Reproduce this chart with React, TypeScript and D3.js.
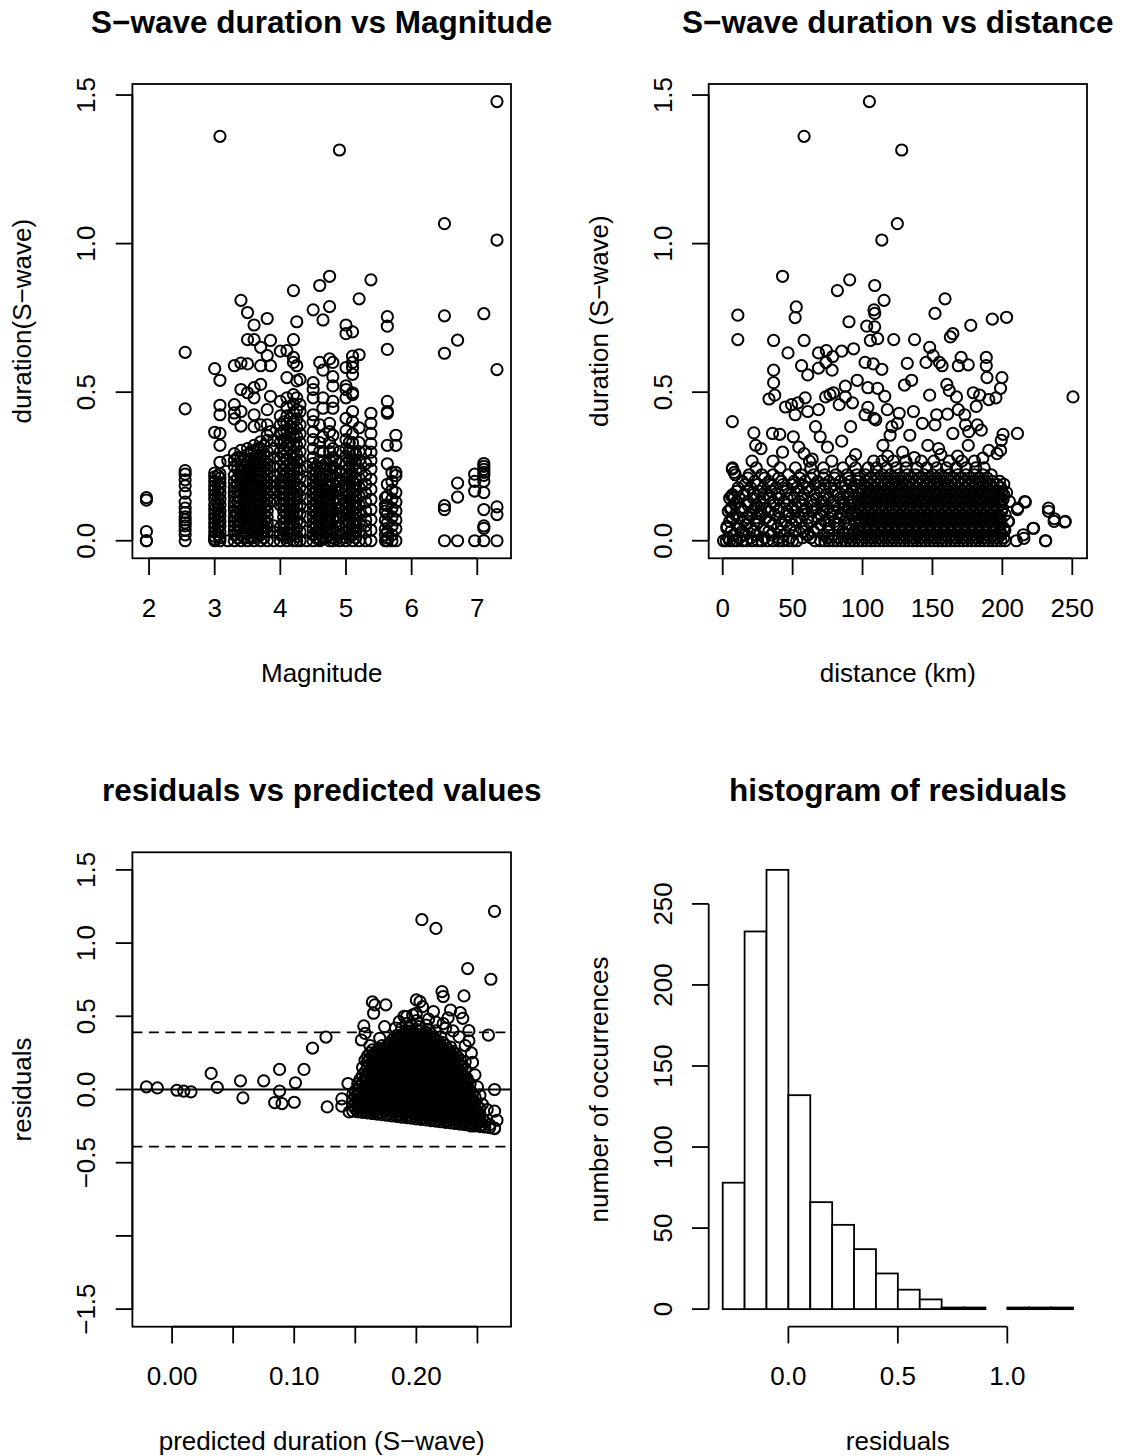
import React from 'react';
import * as d3 from 'd3';

const FONT = "'Liberation Sans', Arial, Helvetica, sans-serif";
const AXIS_FS = 26;
const TITLE_FS = 31.5;
const PT_R = 5.6;
const PT_SW = 2.0;
const LINE_SW = 1.8;

// ---------- panel 1 : duration vs magnitude (magnitude, durations) ----------
const p1Columns: [number, number[]][] = [
  [1.96, [0.145, 0.137, 0.031, 0, 0]],
  [2.55, [0.634, 0.444, 0.236, 0.224, 0.205, 0.185, 0.16, 0.13, 0.11, 0.095, 0.08, 0.07, 0.06, 0.05, 0.035, 0.02, 0]],
  [3.0, [0.579, 0.365, 0.228, 0.215, 0.2, 0.185, 0.17, 0.155, 0.14, 0.12, 0.105, 0.09, 0.075, 0.06, 0.045, 0.03, 0.015, 0.005, 0]],
  [3.05, [0.22, 0.19, 0.165, 0.145, 0.125, 0.11, 0.095, 0.08, 0.065, 0.05, 0.035, 0.02]],
  [3.08, [1.361, 0.54, 0.456, 0.424, 0.361, 0.321, 0.264, 0.225, 0.21, 0.195, 0.18, 0.16, 0.14, 0.12, 0.1, 0.085, 0.065, 0.05, 0.03, 0.01, 0]],
  [3.2, [0.27, 0.0]],
  [3.3, [0.589, 0.458, 0.43, 0.41, 0.293, 0.27, 0.25, 0.22, 0.2, 0.18, 0.165, 0.15, 0.13, 0.115, 0.1, 0.08, 0.065, 0.05, 0.035, 0.02, 0]],
  [3.35, [0.28, 0.24, 0.21, 0.19, 0.17, 0.15, 0.13, 0.11, 0.09, 0.07, 0.05, 0.03, 0.01]],
  [3.4, [0.809, 0.598, 0.509, 0.435, 0.386, 0.304, 0.28, 0.255, 0.235, 0.215, 0.2, 0.18, 0.16, 0.14, 0.12, 0.1, 0.08, 0.06, 0.04, 0.02, 0]],
  [3.45, [0.27, 0.245, 0.225, 0.205, 0.19, 0.17, 0.15, 0.13, 0.11, 0.09, 0.07, 0.05, 0.03, 0.01]],
  [3.5, [0.768, 0.677, 0.595, 0.498, 0.31, 0.29, 0.265, 0.24, 0.22, 0.2, 0.185, 0.165, 0.145, 0.125, 0.105, 0.085, 0.065, 0.045, 0.025, 0.01, 0]],
  [3.55, [0.3, 0.275, 0.25, 0.23, 0.21, 0.19, 0.17, 0.15, 0.13, 0.11, 0.09, 0.07, 0.05, 0.03, 0.01]],
  [3.6, [0.726, 0.677, 0.515, 0.481, 0.424, 0.384, 0.321, 0.3, 0.275, 0.25, 0.23, 0.21, 0.19, 0.17, 0.15, 0.13, 0.11, 0.09, 0.07, 0.05, 0.03, 0.01, 0]],
  [3.65, [0.31, 0.285, 0.26, 0.24, 0.22, 0.2, 0.18, 0.16, 0.14, 0.12, 0.1, 0.08, 0.06, 0.04, 0.02]],
  [3.7, [0.651, 0.589, 0.526, 0.39, 0.333, 0.31, 0.285, 0.26, 0.24, 0.22, 0.2, 0.18, 0.16, 0.14, 0.12, 0.1, 0.08, 0.06, 0.04, 0.02, 0]],
  [3.75, [0.32, 0.29, 0.27, 0.25, 0.23, 0.21, 0.19, 0.17, 0.15, 0.13, 0.11, 0.09, 0.07, 0.05, 0.03, 0.01]],
  [3.8, [0.748, 0.623, 0.441, 0.39, 0.355, 0.338, 0.3, 0.28, 0.26, 0.24, 0.22, 0.2, 0.18, 0.16, 0.14, 0.12, 0.1, 0.08, 0.06, 0.045, 0.03, 0]],
  [3.85, [0.674, 0.589, 0.486, 0.367]],
  [3.9, [0.338, 0.31, 0.28, 0.25, 0.22, 0.2, 0.18, 0.16, 0.135, 0.05, 0.03, 0]],
  [4.0, [0.638, 0.469, 0.42, 0.39, 0.36, 0.33, 0.3, 0.275, 0.25, 0.225, 0.2, 0.18, 0.16, 0.14, 0.12, 0.045, 0.02, 0]],
  [4.05, [0.4, 0.37, 0.34, 0.31, 0.285, 0.26, 0.24, 0.22, 0.2, 0.18, 0.16, 0.14, 0.12, 0.1, 0.08, 0.06, 0.04, 0.02]],
  [4.1, [0.64, 0.549, 0.481, 0.45, 0.42, 0.395, 0.37, 0.345, 0.32, 0.295, 0.27, 0.25, 0.23, 0.21, 0.19, 0.17, 0.15, 0.13, 0.11, 0.09, 0.07, 0.05, 0.03, 0.01, 0]],
  [4.15, [0.41, 0.385, 0.36, 0.33, 0.31, 0.285, 0.26, 0.24, 0.22, 0.2, 0.18, 0.16, 0.14, 0.12, 0.1, 0.08, 0.06, 0.04, 0.02]],
  [4.2, [0.842, 0.677, 0.617, 0.6, 0.492, 0.46, 0.43, 0.4, 0.375, 0.35, 0.325, 0.3, 0.28, 0.26, 0.24, 0.22, 0.2, 0.18, 0.16, 0.14, 0.12, 0.1, 0.08, 0.06, 0.04, 0.02, 0]],
  [4.25, [0.737, 0.589, 0.538, 0.481, 0.44, 0.41, 0.38, 0.35, 0.32, 0.29, 0.265, 0.24, 0.215, 0.19, 0.165, 0.14, 0.115, 0.09, 0.065, 0.04, 0.015, 0]],
  [4.3, [0.543, 0.458, 0.435, 0.39, 0.36, 0.33, 0.3, 0.27, 0.24, 0.21, 0.18, 0.15, 0.12, 0.09, 0.06, 0.03, 0]],
  [4.4, [0.25, 0.2, 0.14, 0.08, 0.03, 0]],
  [4.5, [0.777, 0.532, 0.509, 0.481, 0.424, 0.401, 0.367, 0.34, 0.31, 0.28, 0.26, 0.24, 0.22, 0.2, 0.18, 0.16, 0.14, 0.12, 0.1, 0.08, 0.06, 0.04, 0.02, 0]],
  [4.55, [0.25, 0.23, 0.21, 0.19, 0.17, 0.15, 0.13, 0.11, 0.09, 0.07, 0.05, 0.03, 0.01]],
  [4.6, [0.859, 0.6, 0.39, 0.33, 0.3, 0.27, 0.245, 0.225, 0.205, 0.185, 0.165, 0.145, 0.125, 0.105, 0.085, 0.065, 0.045, 0.025, 0.005, 0]],
  [4.65, [0.743, 0.574, 0.481, 0.446, 0.35, 0.3, 0.25, 0.21, 0.17, 0.13, 0.09, 0.05, 0.01]],
  [4.7, [0.26, 0.24, 0.215, 0.19, 0.17, 0.15, 0.13, 0.11, 0.09, 0.07, 0.05, 0.03, 0.01]],
  [4.75, [0.89, 0.788, 0.612, 0.395, 0.367, 0.33, 0.3, 0.27, 0.24, 0.22, 0.2, 0.18, 0.16, 0.14, 0.12, 0.1, 0.08, 0.06, 0.04, 0.02, 0]],
  [4.8, [0.6, 0.552, 0.521, 0.469, 0.446, 0.355, 0.31, 0.28, 0.25, 0.22, 0.19, 0.16, 0.13, 0.1, 0.07, 0.04, 0.01, 0]],
  [4.85, [0.27, 0.24, 0.21, 0.185, 0.165, 0.145, 0.125, 0.105, 0.085, 0.065, 0.045, 0.025, 0.005]],
  [4.9, [1.315, 0.3, 0.26, 0.23, 0.2, 0.17, 0.14, 0.11, 0.08, 0.05, 0.02, 0]],
  [5.0, [0.726, 0.697, 0.583, 0.521, 0.509, 0.481, 0.412, 0.37, 0.34, 0.31, 0.285, 0.26, 0.235, 0.21, 0.19, 0.17, 0.15, 0.13, 0.11, 0.09, 0.07, 0.05, 0.03, 0.01, 0]],
  [5.05, [0.33, 0.3, 0.27, 0.245, 0.22, 0.2, 0.18, 0.16, 0.14, 0.12, 0.1, 0.08, 0.06, 0.04, 0.02]],
  [5.1, [0.703, 0.621, 0.6, 0.583, 0.56, 0.498, 0.492, 0.435, 0.401, 0.36, 0.33, 0.3, 0.275, 0.25, 0.225, 0.2, 0.18, 0.16, 0.14, 0.12, 0.1, 0.08, 0.06, 0.04, 0.02, 0]],
  [5.15, [0.29, 0.26, 0.235, 0.21, 0.19, 0.17, 0.15, 0.13, 0.11, 0.09, 0.07, 0.05, 0.03, 0.01]],
  [5.2, [0.814, 0.626, 0.38, 0.33, 0.3, 0.27, 0.24, 0.21, 0.18, 0.15, 0.12, 0.09, 0.06, 0.03, 0]],
  [5.3, [0.3, 0.26, 0.22, 0.19, 0.16, 0.13, 0.1, 0.07, 0.05, 0.03, 0]],
  [5.38, [0.878, 0.429, 0.395, 0.361, 0.327, 0.298, 0.27, 0.241, 0.207, 0.173, 0.139, 0.105, 0.071, 0.036, 0]],
  [5.6, [0.145, 0.12, 0.1, 0.07, 0.04, 0.02, 0]],
  [5.63, [0.754, 0.722, 0.644, 0.469, 0.435, 0.429, 0.321, 0.259, 0.19, 0.15, 0.12, 0.09, 0.06, 0.03, 0.01, 0]],
  [5.7, [0.23, 0.2, 0.17, 0.14, 0.11, 0.08, 0.05, 0.02, 0]],
  [5.76, [0.355, 0.321, 0.23, 0.219, 0.162, 0.13, 0.1, 0.07, 0.04, 0]],
  [6.5, [1.067, 0.757, 0.631, 0.118, 0.105, 0]],
  [6.7, [0.675, 0.194, 0.147, 0]],
  [6.96, [0.224, 0.2, 0.167, 0]],
  [7.1, [0.764, 0.26, 0.25, 0.24, 0.23, 0.22, 0.2, 0.162, 0.105, 0.05, 0.042, 0]],
  [7.3, [1.478, 1.012, 0.576, 0.114, 0.088, 0]],
];

// ---------- panel 2 : duration vs distance ----------
// dense band, by duration row: [duration, distances]
const p2Rows: [number, number[]][] = [
  [0, [0.6, 2.5, 5, 7.5, 10, 14, 17, 21, 25, 28, 32, 36, 40, 43, 47, 50, 53, 66, 70, 73, 76, 79, 82, 85, 88, 91, 94, 97, 100, 103, 106, 109, 112, 115, 118, 121, 124, 127, 130, 133, 136, 139, 142, 145, 148, 151, 154, 157, 160, 163, 166, 169, 172, 175, 178, 181, 184, 187, 190, 193, 196, 199, 202, 210, 231]],
  [0.01, [4, 12, 20, 30, 40, 48, 57, 63, 75, 83, 90, 96, 101.5, 106.5, 111.5, 116.5, 121.5, 126.5, 131.5, 136.5, 141.5, 146.5, 151.5, 156.5, 161.5, 166.5, 171.5, 176.5, 181.5, 186.5, 191.5, 196.5, 201]],
  [0.02, [8, 16, 24, 35, 44, 61, 72, 79, 87, 93, 99, 104, 109, 114, 119, 124, 129, 134, 139, 144, 149, 154, 159, 164, 169, 174, 179, 184, 189, 194, 199, 215]],
  [0.031, [6, 14, 22, 33, 41, 52, 58, 65, 75, 86, 94, 98.5, 103.5, 108.5, 113.5, 118.5, 123.5, 128.5, 133.5, 138.5, 143.5, 148.5, 153.5, 158.5, 163.5, 168.5, 173.5, 178.5, 183.5, 188.5, 193.5, 198.5]],
  [0.042, [3, 12, 20, 29, 39, 48, 56, 68, 76, 83, 90, 96, 101, 106, 111, 116, 121, 126, 131, 136, 141, 146, 151, 156, 161, 166, 171, 176, 181, 186, 191, 196, 201, 222]],
  [0.054, [10, 17, 24, 36, 42, 50, 60, 70, 76, 82, 91, 98.5, 103.5, 108.5, 113.5, 118.5, 123.5, 128.5, 133.5, 138.5, 143.5, 148.5, 153.5, 158.5, 163.5, 168.5, 173.5, 178.5, 183.5, 188.5, 193.5, 198.5]],
  [0.065, [5, 15, 26, 33, 45, 52, 64, 73, 80, 87, 94, 99, 104, 109, 114, 119, 124, 129, 134, 139, 144, 149, 154, 159, 164, 169, 174, 179, 184, 189, 194, 199, 204, 237, 245]],
  [0.077, [7, 12, 18, 24, 31, 41, 49, 55, 61, 68, 76, 83, 89, 96.5, 101.5, 106.5, 111.5, 116.5, 121.5, 126.5, 131.5, 136.5, 141.5, 146.5, 151.5, 156.5, 161.5, 166.5, 171.5, 176.5, 181.5, 186.5, 191.5, 196.5]],
  [0.088, [9, 19, 28, 37, 47, 58, 70, 78, 85, 92, 97, 102, 107, 112, 117, 122, 127, 132, 137, 142, 147, 152, 157, 162, 167, 172, 177, 182, 187, 192, 197, 202]],
  [0.099, [4, 14, 21, 27, 33, 40, 46, 52, 58, 64, 72, 79, 88, 94.5, 99.5, 104.5, 109.5, 114.5, 119.5, 124.5, 129.5, 134.5, 139.5, 144.5, 149.5, 154.5, 159.5, 164.5, 169.5, 174.5, 179.5, 184.5, 189.5, 194.5, 199.5]],
  [0.11, [6, 13, 23, 31, 41, 50, 60, 67, 75, 83, 90, 96, 101, 106, 111, 116, 121, 126, 131, 136, 141, 146, 151, 156, 161, 166, 171, 176, 181, 186, 191, 196, 200, 211, 233]],
  [0.121, [9, 18, 24, 28, 37, 46, 52, 56, 65, 71, 80, 87, 92, 98.5, 103.5, 108.5, 113.5, 118.5, 123.5, 128.5, 133.5, 138.5, 143.5, 148.5, 153.5, 158.5, 163.5, 168.5, 173.5, 178.5, 183.5, 188.5, 193.5, 198.5]],
  [0.132, [10, 18, 27, 36, 44, 55, 63, 71, 79, 86, 93, 99, 104, 109, 114, 119, 124, 129, 134, 139, 144, 149, 154, 159, 164, 169, 174, 179, 184, 189, 194, 199, 205, 216]],
  [0.143, [5, 12, 22, 29, 34, 40, 46, 51, 57, 67, 72, 76, 84, 90, 96.5, 101.5, 106.5, 111.5, 116.5, 121.5, 126.5, 131.5, 136.5, 141.5, 146.5, 151.5, 156.5, 161.5, 166.5, 171.5, 176.5, 181.5, 186.5, 191.5, 196.5]],
  [0.155, [7, 15, 22, 31, 40, 49, 58, 66, 74, 82, 90, 97, 102, 107, 112, 117, 122, 127, 132, 137, 142, 147, 152, 157, 162, 167, 172, 177, 182, 187, 192, 197, 201]],
  [0.166, [10, 18, 26, 35, 45, 54, 62, 70, 80, 88, 93, 99.5, 104.5, 109.5, 114.5, 119.5, 124.5, 129.5, 134.5, 139.5, 144.5, 149.5, 154.5, 159.5, 164.5, 169.5, 174.5, 179.5, 184.5, 189.5, 194.5, 199.5]],
  [0.178, [11, 20, 29, 38, 46, 53, 61, 69, 77, 85, 93, 99, 104, 109, 114, 119, 124, 129, 134, 139, 144, 149, 154, 159, 164, 169, 174, 179, 184, 189, 194, 199]],
  [0.189, [16, 25, 34, 43, 50, 57, 66, 73, 80, 88, 95, 101.5, 106.5, 111.5, 116.5, 121.5, 126.5, 131.5, 136.5, 141.5, 146.5, 151.5, 156.5, 161.5, 166.5, 171.5, 176.5, 181.5, 186.5, 191.5, 196.5]],
  [0.2, [14, 23, 33, 42, 51, 59, 68, 76, 84, 91, 97, 103, 108, 113, 118, 123, 128, 133, 138, 143, 148, 153, 158, 163, 168, 173, 178, 183, 188, 193, 198]],
  [0.211, [18, 30, 40, 55, 63, 72, 80, 90, 98, 105.5, 111, 117, 123, 129, 135, 141, 147, 153, 159, 165, 171, 177, 183, 189]],
  [0.222, [9, 19, 28, 36, 47, 56, 65, 73, 81, 89, 96, 102, 108, 114, 120, 126, 132, 138, 144, 150, 156, 162, 168, 174, 180, 186, 192]],
  [0.245, [7, 24, 41, 52, 63, 72, 86, 95, 104, 110, 117, 124, 131, 139, 146, 153, 160, 167, 174, 181, 187]],
  [0.268, [21, 36, 62, 78, 92, 108, 114, 122, 131, 142, 151, 162, 171, 180]],
];
// scattered points: [distance, duration]
const p2Scatter: [number, number][] = [
  [104.9, 1.478], [58.2, 1.361], [128, 1.315], [124.9, 1.067], [113.8, 1.012], [42.8, 0.89], [90.8, 0.878],
  [108.7, 0.859], [82, 0.842], [115.4, 0.809], [159, 0.814], [52.6, 0.787], [10.8, 0.759], [51.8, 0.751],
  [108.2, 0.777], [108.7, 0.765], [151.8, 0.765], [192.8, 0.746], [203, 0.752], [90.3, 0.737], [103, 0.722],
  [108.7, 0.72], [177.4, 0.725], [164.6, 0.697], [162.8, 0.686], [10.8, 0.677], [36.4, 0.674], [58.2, 0.674],
  [105.6, 0.674], [110.8, 0.68], [122.3, 0.677], [137.2, 0.677], [148, 0.651], [46.7, 0.632], [68.5, 0.632],
  [74.1, 0.64], [85.1, 0.638], [93.6, 0.646], [78.7, 0.62], [150.5, 0.623], [188.5, 0.617], [170.5, 0.617],
  [56.4, 0.589], [68.5, 0.581], [73.8, 0.6], [78.2, 0.574], [101.8, 0.6], [107.7, 0.595], [113.8, 0.577],
  [132, 0.597], [145.4, 0.6], [155, 0.6], [156.9, 0.589], [168.5, 0.589], [175.6, 0.592], [188.5, 0.589],
  [36.4, 0.574], [60.8, 0.558], [36.4, 0.532], [96.2, 0.54], [189, 0.549], [199.7, 0.549], [198.7, 0.513],
  [130, 0.524], [135.1, 0.54], [87.7, 0.52], [160.3, 0.526], [162, 0.506], [103.8, 0.515], [110.8, 0.513],
  [33.1, 0.477], [37.2, 0.49], [59, 0.481], [73.6, 0.484], [76.7, 0.492], [79.2, 0.498], [87.7, 0.484],
  [115.9, 0.486], [148, 0.49], [167.2, 0.484], [179.2, 0.498], [183.8, 0.49], [190.3, 0.475], [195.4, 0.481],
  [250.5, 0.484], [44.9, 0.45], [49.2, 0.458], [53.8, 0.464], [51.8, 0.424], [60.8, 0.435], [68.5, 0.441],
  [83.3, 0.458], [92.8, 0.464], [103.8, 0.449], [101.8, 0.424], [108.2, 0.412], [109.5, 0.407], [117.7, 0.441],
  [126.2, 0.429], [136.4, 0.435], [153, 0.424], [160.8, 0.426], [168.5, 0.441], [173.1, 0.424], [181.3, 0.452],
  [6.9, 0.401], [66.4, 0.384], [91.5, 0.384], [121, 0.384], [124.9, 0.395], [142.8, 0.395], [151.8, 0.39],
  [173.6, 0.39], [182.1, 0.39], [210.8, 0.361], [22.3, 0.363], [35.6, 0.361], [40.8, 0.358], [50.5, 0.35],
  [69.7, 0.35], [85.1, 0.335], [119.7, 0.355], [133.8, 0.355], [164.6, 0.361], [175.9, 0.367], [184.9, 0.372],
  [200.5, 0.358], [199.2, 0.338], [23.6, 0.321], [27.4, 0.31], [42.8, 0.298], [54.4, 0.315], [58.2, 0.293],
  [74.9, 0.315], [114.6, 0.321], [128.7, 0.298], [146.7, 0.321], [154.4, 0.31], [175.6, 0.321], [190.3, 0.304],
  [196.2, 0.293], [198.7, 0.304], [6.4, 0.15], [8.2, 0.145], [6.9, 0.241], [8.2, 0.23], [5.6, 0.105],
  [3.1, 0.048], [210.8, 0.105], [216.4, 0.13], [222.3, 0.042], [215.4, 0.008], [230.8, 0], [233, 0.099],
  [237.2, 0.074], [244.6, 0.063], [204.4, 0.065], [201.8, 0.036], [200.5, 0.139], [203, 0.162], [201, 0.19],
  [60.8, 0.019], [118, 0.285], [137, 0.28], [156, 0.29], [168, 0.285], [186, 0.278], [95, 0.29], [64, 0.275],
];

// ---------- panel 3 : residuals vs predicted ----------
// dense core, by predicted value: [predicted, residuals]
const p3Columns: [number, number[]][] = [
  [0.148, [-0.148, -0.11, -0.07, -0.03]],
  [0.15, [-0.13, -0.09, -0.05, -0.01]],
  [0.152, [-0.152, -0.12, -0.08, -0.04, 0.0, 0.04]],
  [0.154, [-0.135, -0.1, -0.06, -0.02, 0.02, 0.07]],
  [0.156, [-0.156, -0.12, -0.08, -0.04, 0.0, 0.05, 0.1, 0.15]],
  [0.158, [-0.14, -0.1, -0.06, -0.02, 0.02, 0.07, 0.12, 0.2]],
  [0.16, [-0.16, -0.125, -0.09, -0.05, -0.01, 0.03, 0.07, 0.11, 0.15, 0.19, 0.23]],
  [0.162, [-0.145, -0.105, -0.065, -0.025, 0.015, 0.05, 0.09, 0.13, 0.17, 0.21, 0.25]],
  [0.164, [-0.164, -0.13, -0.09, -0.05, -0.01, 0.03, 0.07, 0.11, 0.15, 0.19, 0.23, 0.27]],
  [0.166, [-0.15, -0.11, -0.07, -0.03, 0.01, 0.05, 0.09, 0.13, 0.17, 0.21, 0.25]],
  [0.168, [-0.168, -0.13, -0.095, -0.055, -0.015, 0.025, 0.065, 0.105, 0.145, 0.185, 0.225, 0.265]],
  [0.17, [-0.155, -0.115, -0.075, -0.035, 0.005, 0.045, 0.085, 0.125, 0.165, 0.205, 0.245, 0.28]],
  [0.172, [-0.172, -0.135, -0.1, -0.06, -0.02, 0.02, 0.06, 0.1, 0.14, 0.18, 0.22, 0.26, 0.3]],
  [0.174, [-0.155, -0.12, -0.08, -0.04, 0.0, 0.04, 0.08, 0.12, 0.16, 0.2, 0.24, 0.28]],
  [0.176, [-0.176, -0.14, -0.1, -0.06, -0.02, 0.02, 0.06, 0.1, 0.14, 0.18, 0.22, 0.26, 0.3]],
  [0.178, [-0.16, -0.12, -0.08, -0.045, -0.005, 0.035, 0.075, 0.115, 0.155, 0.195, 0.235, 0.275, 0.315]],
  [0.18, [-0.18, -0.14, -0.1, -0.065, -0.025, 0.015, 0.055, 0.095, 0.135, 0.175, 0.215, 0.255, 0.295, 0.335]],
  [0.182, [-0.165, -0.125, -0.085, -0.045, -0.005, 0.035, 0.075, 0.115, 0.155, 0.195, 0.235, 0.275, 0.315, 0.355]],
  [0.184, [-0.184, -0.145, -0.105, -0.065, -0.025, 0.015, 0.055, 0.095, 0.135, 0.175, 0.215, 0.255, 0.295, 0.335, 0.37]],
  [0.186, [-0.17, -0.13, -0.09, -0.05, -0.01, 0.03, 0.07, 0.11, 0.15, 0.19, 0.23, 0.27, 0.31, 0.35]],
  [0.188, [-0.188, -0.15, -0.11, -0.07, -0.03, 0.01, 0.05, 0.09, 0.13, 0.17, 0.21, 0.25, 0.29, 0.33, 0.37, 0.42]],
  [0.19, [-0.17, -0.13, -0.095, -0.055, -0.015, 0.025, 0.065, 0.105, 0.145, 0.185, 0.225, 0.265, 0.305, 0.345, 0.385]],
  [0.192, [-0.192, -0.155, -0.115, -0.075, -0.035, 0.005, 0.045, 0.085, 0.125, 0.165, 0.205, 0.245, 0.285, 0.325, 0.365, 0.4, 0.45]],
  [0.194, [-0.175, -0.135, -0.1, -0.06, -0.02, 0.02, 0.06, 0.1, 0.14, 0.18, 0.22, 0.26, 0.3, 0.34, 0.38, 0.42]],
  [0.196, [-0.196, -0.16, -0.12, -0.08, -0.04, 0.0, 0.04, 0.08, 0.12, 0.16, 0.2, 0.24, 0.28, 0.32, 0.36, 0.4, 0.44]],
  [0.198, [-0.18, -0.14, -0.1, -0.06, -0.02, 0.02, 0.06, 0.1, 0.14, 0.18, 0.22, 0.26, 0.3, 0.34, 0.38]],
  [0.2, [-0.2, -0.16, -0.12, -0.08, -0.04, 0.0, 0.04, 0.08, 0.12, 0.16, 0.2, 0.24, 0.28, 0.32, 0.36, 0.41, 0.47]],
  [0.202, [-0.185, -0.145, -0.105, -0.065, -0.025, 0.015, 0.055, 0.095, 0.135, 0.175, 0.215, 0.255, 0.295, 0.335, 0.375, 0.43]],
  [0.204, [-0.204, -0.165, -0.125, -0.085, -0.045, -0.005, 0.035, 0.075, 0.115, 0.155, 0.195, 0.235, 0.275, 0.315, 0.355, 0.4]],
  [0.206, [-0.19, -0.15, -0.11, -0.07, -0.03, 0.01, 0.05, 0.09, 0.13, 0.17, 0.21, 0.25, 0.29, 0.33, 0.37]],
  [0.208, [-0.208, -0.17, -0.13, -0.09, -0.05, -0.01, 0.03, 0.07, 0.11, 0.15, 0.19, 0.23, 0.27, 0.31, 0.35, 0.39, 0.44]],
  [0.21, [-0.19, -0.155, -0.115, -0.075, -0.035, 0.005, 0.045, 0.085, 0.125, 0.165, 0.205, 0.245, 0.285, 0.325, 0.365, 0.41]],
  [0.212, [-0.212, -0.175, -0.135, -0.095, -0.055, -0.015, 0.025, 0.065, 0.105, 0.145, 0.185, 0.225, 0.265, 0.305, 0.345, 0.38]],
  [0.214, [-0.195, -0.16, -0.12, -0.08, -0.04, 0.0, 0.04, 0.08, 0.12, 0.16, 0.2, 0.24, 0.28, 0.32, 0.36]],
  [0.216, [-0.216, -0.18, -0.14, -0.1, -0.06, -0.02, 0.02, 0.06, 0.1, 0.14, 0.18, 0.22, 0.26, 0.3, 0.34, 0.4, 0.46]],
  [0.218, [-0.2, -0.16, -0.12, -0.08, -0.04, 0.0, 0.04, 0.08, 0.12, 0.16, 0.2, 0.24, 0.28, 0.33]],
  [0.22, [-0.22, -0.18, -0.14, -0.1, -0.06, -0.02, 0.02, 0.06, 0.1, 0.14, 0.18, 0.22, 0.26, 0.3, 0.36]],
  [0.222, [-0.205, -0.165, -0.125, -0.085, -0.045, -0.005, 0.035, 0.075, 0.115, 0.155, 0.195, 0.235, 0.275, 0.32]],
  [0.224, [-0.224, -0.185, -0.145, -0.105, -0.065, -0.025, 0.015, 0.055, 0.095, 0.135, 0.175, 0.215, 0.255, 0.3, 0.42]],
  [0.226, [-0.21, -0.17, -0.13, -0.09, -0.05, -0.01, 0.03, 0.07, 0.11, 0.15, 0.19, 0.23, 0.27]],
  [0.228, [-0.228, -0.19, -0.15, -0.11, -0.07, -0.03, 0.01, 0.05, 0.09, 0.13, 0.17, 0.21, 0.25, 0.29]],
  [0.23, [-0.21, -0.175, -0.135, -0.095, -0.055, -0.015, 0.025, 0.065, 0.105, 0.145, 0.185, 0.225, 0.26]],
  [0.232, [-0.232, -0.195, -0.155, -0.115, -0.075, -0.035, 0.005, 0.045, 0.085, 0.125, 0.165, 0.205, 0.245]],
  [0.234, [-0.215, -0.18, -0.14, -0.1, -0.06, -0.02, 0.02, 0.06, 0.1, 0.14, 0.18, 0.22]],
  [0.236, [-0.236, -0.2, -0.16, -0.12, -0.08, -0.04, 0.0, 0.04, 0.08, 0.12, 0.16, 0.2]],
  [0.238, [-0.22, -0.18, -0.14, -0.1, -0.06, -0.02, 0.02, 0.06, 0.1, 0.16]],
  [0.24, [-0.24, -0.2, -0.16, -0.12, -0.08, -0.04, 0.0, 0.04, 0.09, 0.14]],
  [0.242, [-0.225, -0.185, -0.145, -0.105, -0.065, -0.025, 0.015, 0.06]],
  [0.244, [-0.244, -0.205, -0.165, -0.125, -0.085, -0.045, -0.005, 0.04]],
  [0.246, [-0.23, -0.19, -0.15, -0.11, -0.07, -0.03]],
  [0.248, [-0.248, -0.21, -0.17, -0.13, -0.09, -0.05]],
  [0.25, [-0.235, -0.19, -0.15, -0.11]],
  [0.252, [-0.252, -0.21, -0.17, -0.13]],
  [0.254, [-0.24, -0.2]],
  [0.256, [-0.256, -0.22]],
  [0.26, [-0.26, -0.24]],
  [0.264, [-0.264]],
];
// scattered points: [predicted, residual]
const p3Scatter: [number, number][] = [
  [-0.021, 0.018], [-0.012, 0.011], [0.004, -0.005], [0.0096, -0.011], [0.0155, -0.016], [0.032, 0.11],
  [0.037, 0.014], [0.056, 0.059], [0.058, -0.057], [0.075, 0.059], [0.088, 0.137], [0.088, -0.011],
  [0.084, -0.089], [0.09, -0.096], [0.101, 0.046], [0.1, -0.087], [0.108, 0.137], [0.115, 0.283],
  [0.126, 0.358], [0.127, -0.119], [0.139, -0.064], [0.139, -0.114], [0.144, 0.041], [0.145, -0.153],
  [0.2045, 1.16], [0.216, 1.1], [0.264, 1.217], [0.242, 0.826], [0.261, 0.753], [0.259, 0.372],
  [0.239, 0.639], [0.221, 0.669], [0.222, 0.635], [0.2, 0.612], [0.203, 0.6], [0.164, 0.598],
  [0.166, 0.578], [0.175, 0.578], [0.165, 0.521], [0.157, 0.434], [0.174, 0.429], [0.155, 0.338],
  [0.158, 0.383], [0.186, 0.463], [0.192, 0.498], [0.197, 0.509], [0.205, 0.566], [0.214, 0.532],
  [0.228, 0.543], [0.236, 0.525], [0.238, 0.486], [0.243, 0.402], [0.243, 0.333], [0.24, 0.189],
  [0.246, 0.185], [0.2415, 0.075], [0.25, 0.018], [0.252, -0.039], [0.264, 0.0], [0.258, -0.137],
  [0.264, -0.148], [0.266, -0.21], [0.264, -0.267], [0.253, -0.251], [0.245, -0.249], [0.162, 0.3],
  [0.17, 0.35], [0.19, 0.5], [0.21, 0.48], [0.222, 0.45], [0.23, 0.4], [0.235, 0.36], [0.24, 0.3],
  [0.245, 0.25], [0.183, 0.42], [0.2, 0.52], [0.226, 0.49], [0.248, 0.1], [0.254, -0.1],
];
const residualBand = 0.39;

// ---------- panel 4 : histogram of residuals ----------
const histStart = -0.3;
const histBinWidth = 0.1;
const histCounts = [78, 233, 271, 132, 66, 52, 37, 22, 12, 6, 1, 1, 0, 1, 1, 1];

// ---------- tick labels ----------
const magTicks = [2, 3, 4, 5, 6, 7];
const durTicks = [0, 0.5, 1.0, 1.5];
const durLabels = ['0.0', '0.5', '1.0', '1.5'];
const distTicks = [0, 50, 100, 150, 200, 250];
const predTicks = [0, 0.05, 0.1, 0.15, 0.2, 0.25];
const predLabels = ['0.00', null, '0.10', null, '0.20', null];
const resTicks = [-1.5, -1, -0.5, 0, 0.5, 1, 1.5];
const resLabels = ['\u22121.5', null, '\u22120.5', '0.0', '0.5', '1.0', '1.5'];
const histXTicks = [0, 0.5, 1];
const histXLabels = ['0.0', '0.5', '1.0'];
const histYTicks = [0, 50, 100, 150, 200, 250];

// ---------- layout ----------
const P1 = { x0: 132.4, x1: 511, y0: 84, y1: 558.3 };
const P2 = { x0: 708.7, x1: 1087, y0: 84, y1: 558.3 };
const P3 = { x0: 132.4, x1: 511, y0: 852.3, y1: 1326.7 };
const P4 = { x0: 708.7, x1: 1087, y0: 852.3, y1: 1326.7 };
const TICK = 16.7;

function pad(lo: number, hi: number): [number, number] {
  const p = (hi - lo) * 0.04;
  return [lo - p, hi + p];
}

type Rect = { x0: number; x1: number; y0: number; y1: number };

function XAxis({ scale, ticks, labels, y }: any) {
  const a = scale(ticks[0]);
  const b = scale(ticks[ticks.length - 1]);
  return (
    <g>
      <line x1={a} x2={b} y1={y} y2={y} stroke="black" strokeWidth={LINE_SW} />
      {ticks.map((t: number, i: number) => (
        <line key={'t' + i} x1={scale(t)} x2={scale(t)} y1={y} y2={y + TICK} stroke="black" strokeWidth={LINE_SW} />
      ))}
      {ticks.map((t: number, i: number) =>
        labels[i] == null ? null : (
          <text key={'l' + i} x={scale(t)} y={y + 58.7} textAnchor="middle" fontSize={AXIS_FS}>
            {labels[i]}
          </text>
        )
      )}
    </g>
  );
}

function YAxis({ scale, ticks, labels, x }: any) {
  const a = scale(ticks[0]);
  const b = scale(ticks[ticks.length - 1]);
  return (
    <g>
      <line x1={x} x2={x} y1={a} y2={b} stroke="black" strokeWidth={LINE_SW} />
      {ticks.map((t: number, i: number) => (
        <line key={'t' + i} x1={x - TICK} x2={x} y1={scale(t)} y2={scale(t)} stroke="black" strokeWidth={LINE_SW} />
      ))}
      {ticks.map((t: number, i: number) =>
        labels[i] == null ? null : (
          <text key={'l' + i} transform={`translate(${x - 37},${scale(t)}) rotate(-90)`} textAnchor="middle" fontSize={AXIS_FS}>
            {labels[i]}
          </text>
        )
      )}
    </g>
  );
}

function Titles({ r, title, xlab, ylab }: { r: Rect; title: string; xlab: string; ylab: string }) {
  const cx = (r.x0 + r.x1) / 2;
  const cy = (r.y0 + r.y1) / 2;
  return (
    <g>
      <text x={cx} y={r.y0 - 51} textAnchor="middle" fontSize={TITLE_FS} fontWeight="bold">{title}</text>
      <text x={cx} y={r.y1 + 123.7} textAnchor="middle" fontSize={AXIS_FS}>{xlab}</text>
      <text transform={`translate(${r.x0 - 101},${cy}) rotate(-90)`} textAnchor="middle" fontSize={AXIS_FS}>{ylab}</text>
    </g>
  );
}

function Frame({ r }: { r: Rect }) {
  return <rect x={r.x0} y={r.y0} width={r.x1 - r.x0} height={r.y1 - r.y0} fill="none" stroke="black" strokeWidth={LINE_SW} />;
}

function Points({ pts, x, y }: { pts: [number, number][]; x: any; y: any }) {
  return (
    <g fill="none" stroke="black" strokeWidth={PT_SW}>
      {pts.map((p, i) => (
        <circle key={i} cx={x(p[0])} cy={y(p[1])} r={PT_R} />
      ))}
    </g>
  );
}

export default function App() {
  // panel 1
  const pts1: [number, number][] = [];
  p1Columns.forEach(([m, ds]) => ds.forEach((d) => pts1.push([m, d])));
  const x1 = d3.scaleLinear().domain(pad(d3.min(pts1, (d) => d[0])!, d3.max(pts1, (d) => d[0])!)).range([P1.x0, P1.x1]);
  const durDomain = pad(0, d3.max(pts1, (d) => d[1])!);
  const y1 = d3.scaleLinear().domain(durDomain).range([P1.y1, P1.y0]);

  // panel 2
  const pts2: [number, number][] = [];
  p2Rows.forEach(([d, xs]) => xs.forEach((x) => pts2.push([x, d])));
  p2Scatter.forEach((p) => pts2.push(p));
  const x2 = d3.scaleLinear().domain(pad(0, d3.max(pts2, (d) => d[0])!)).range([P2.x0, P2.x1]);
  const y2 = d3.scaleLinear().domain(durDomain).range([P2.y1, P2.y0]);

  // panel 3
  const pts3: [number, number][] = [];
  p3Columns.forEach(([p, rs]) => rs.forEach((r) => pts3.push([p, r])));
  p3Scatter.forEach((p) => pts3.push(p));
  const x3 = d3.scaleLinear().domain(pad(d3.min(pts3, (d) => d[0])!, d3.max(pts3, (d) => d[0])!)).range([P3.x0, P3.x1]);
  const y3 = d3.scaleLinear().domain(pad(-1.5, 1.5)).range([P3.y1, P3.y0]);

  // panel 4
  const nb = histCounts.length;
  const x4 = d3.scaleLinear().domain(pad(histStart, histStart + nb * histBinWidth)).range([P4.x0, P4.x1]);
  const y4 = d3.scaleLinear().domain(pad(0, d3.max(histCounts)!)).range([P4.y1, P4.y0]);

  return (
    <svg
      width={1123}
      height={1456}
      viewBox="0 0 1123 1456"
      style={{ position: 'absolute', left: 0, top: 0, background: 'white', display: 'block' }}
      fontFamily={FONT}
      fill="black"
    >
      <rect x={0} y={0} width={1123} height={1456} fill="white" />

      {/* Panel 1 */}
      <Points pts={pts1} x={x1} y={y1} />
      <Frame r={P1} />
      <XAxis scale={x1} ticks={magTicks} labels={magTicks.map(String)} y={P1.y1} />
      <YAxis scale={y1} ticks={durTicks} labels={durLabels} x={P1.x0} />
      <Titles r={P1} title={'S\u2212wave duration vs Magnitude'} xlab="Magnitude" ylab={'duration(S\u2212wave)'} />

      {/* Panel 2 */}
      <Points pts={pts2} x={x2} y={y2} />
      <Frame r={P2} />
      <XAxis scale={x2} ticks={distTicks} labels={distTicks.map(String)} y={P2.y1} />
      <YAxis scale={y2} ticks={durTicks} labels={durLabels} x={P2.x0} />
      <Titles r={P2} title={'S\u2212wave duration vs distance'} xlab="distance (km)" ylab={'duration (S\u2212wave)'} />

      {/* Panel 3 */}
      <Points pts={pts3} x={x3} y={y3} />
      <line x1={P3.x0} x2={P3.x1} y1={y3(0)} y2={y3(0)} stroke="black" strokeWidth={LINE_SW} />
      <line x1={P3.x0} x2={P3.x1} y1={y3(residualBand)} y2={y3(residualBand)} stroke="black" strokeWidth={LINE_SW} strokeDasharray="10,6.5" />
      <line x1={P3.x0} x2={P3.x1} y1={y3(-residualBand)} y2={y3(-residualBand)} stroke="black" strokeWidth={LINE_SW} strokeDasharray="10,6.5" />
      <Frame r={P3} />
      <XAxis scale={x3} ticks={predTicks} labels={predLabels} y={P3.y1} />
      <YAxis scale={y3} ticks={resTicks} labels={resLabels} x={P3.x0} />
      <Titles r={P3} title="residuals vs predicted values" xlab={'predicted duration (S\u2212wave)'} ylab="residuals" />

      {/* Panel 4 */}
      <g fill="white" stroke="black" strokeWidth={LINE_SW}>
        {histCounts.map((c, i) => {
          const a = x4(histStart + i * histBinWidth);
          const b = x4(histStart + (i + 1) * histBinWidth);
          return <rect key={i} x={a} y={y4(c)} width={b - a} height={y4(0) - y4(c)} />;
        })}
      </g>
      <XAxis scale={x4} ticks={histXTicks} labels={histXLabels} y={P4.y1} />
      <YAxis scale={y4} ticks={histYTicks} labels={histYTicks.map(String)} x={P4.x0} />
      <Titles r={P4} title="histogram of residuals" xlab="residuals" ylab="number of occurrences" />
    </svg>
  );
}
